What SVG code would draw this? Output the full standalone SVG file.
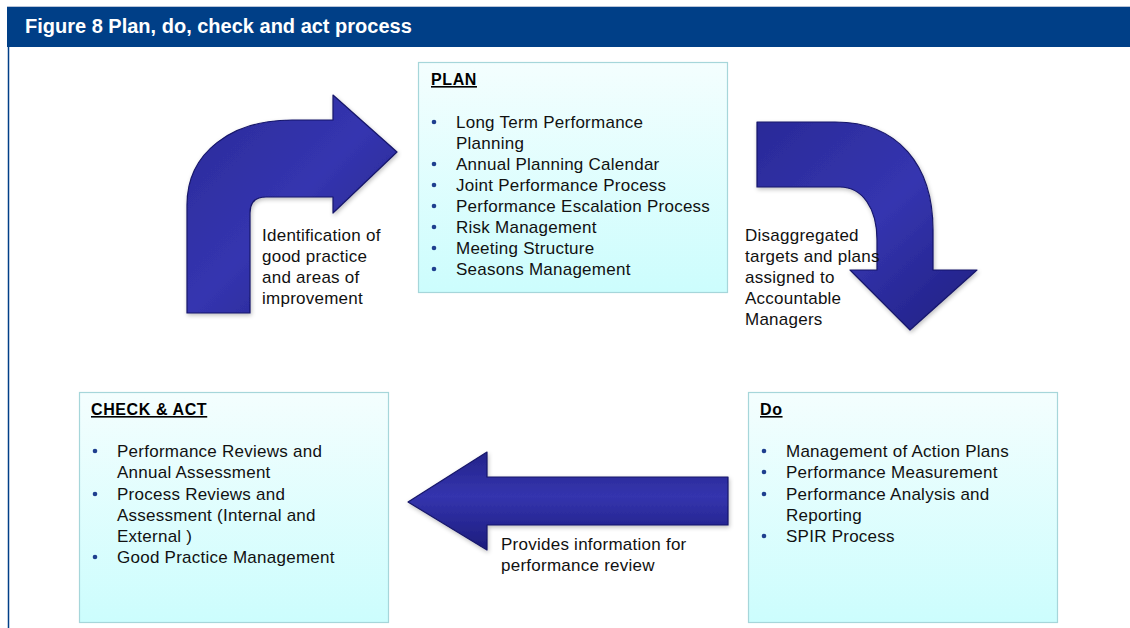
<svg xmlns="http://www.w3.org/2000/svg" width="1130" height="628" viewBox="0 0 1130 628">
  <defs>
    <linearGradient id="boxFill" x1="0" y1="0" x2="0" y2="1">
      <stop offset="0" stop-color="#f4fefe"/>
      <stop offset="1" stop-color="#ccfdfd"/>
    </linearGradient>
    <linearGradient id="arrowH" x1="0" y1="0" x2="0" y2="1">
      <stop offset="0" stop-color="#24248a"/>
      <stop offset="0.45" stop-color="#3434ae"/>
      <stop offset="1" stop-color="#1c1c7c"/>
    </linearGradient>
    <linearGradient id="arrowD" x1="0" y1="0" x2="1" y2="1">
      <stop offset="0" stop-color="#2a2a98"/>
      <stop offset="0.5" stop-color="#3535b0"/>
      <stop offset="1" stop-color="#1e1e80"/>
    </linearGradient>
    <filter id="shade" x="-10%" y="-10%" width="120%" height="120%">
      <feGaussianBlur in="SourceAlpha" stdDeviation="2"/>
      <feOffset dx="1" dy="2" result="b"/>
      <feFlood flood-color="#000" flood-opacity="0.25"/>
      <feComposite in2="b" operator="in"/>
      <feMerge>
        <feMergeNode/>
        <feMergeNode in="SourceGraphic"/>
      </feMerge>
    </filter>
  </defs>
  <style>
    .box { fill: url(#boxFill); stroke: #a6d6da; stroke-width: 1.2; }
    .title { font-family: "Liberation Sans", Arial, sans-serif; font-size: 16px; letter-spacing: 0.6px; font-weight: bold; fill: #000; text-decoration: underline; }
    .item { font-family: "Liberation Sans", Arial, sans-serif; font-size: 17px; letter-spacing: 0.25px; fill: #111; }
    .bullet { fill: #1f3f8f; }
    .label { font-family: "Liberation Sans", Arial, sans-serif; font-size: 17px; letter-spacing: 0.25px; fill: #111; }
    .arrow { stroke: #16166a; stroke-width: 1.2; stroke-linejoin: round; }
    .head { font-family: "Liberation Sans", Arial, sans-serif; font-size: 20px; font-weight: bold; fill: #fff; }
  </style>

  <!-- Frame and caption band -->
  <rect x="0" y="0" width="1130" height="628" fill="#fff"/>
  <line x1="7" y1="6.5" x2="1130" y2="6.5" stroke="#b8c4d8" stroke-width="1"/>
  <rect x="7" y="7" width="1123" height="40" fill="#003f87"/>
  <line x1="8.5" y1="47" x2="8.5" y2="628" stroke="#003f87" stroke-width="1.5"/>
  <text class="head" x="25" y="33">Figure 8 Plan, do, check and act process</text>

  <!-- Connectors -->
  <g id="connectors" filter="url(#shade)">
    <path id="arrow-act-plan" class="arrow" fill="url(#arrowD)" d="M 187 313 L 187 205 C 187 152 232 120 292 120 L 333 120 L 333 95 L 397 152 L 333 213 L 333 197 L 266 197 Q 250 197 250 213 L 250 313 Z"/>
    <path id="arrow-plan-do" class="arrow" fill="url(#arrowD)" d="M 757 122 L 835 122 C 898 122 933 165 933 230 L 933 270 L 977 270 L 910 330 L 850 270 L 877 270 L 877 240 C 877 208 862 187 840 187 L 757 187 Z"/>
    <path id="arrow-do-check" class="arrow" fill="url(#arrowH)" d="M 728 477 L 487 477 L 487 452 L 408 502 L 487 550 L 487 525 L 728 525 Z"/>
  </g>

  <!-- Connector labels -->
  <g id="connector-labels">
    <text class="label" x="262" y="241">Identification of</text>
    <text class="label" x="262" y="262">good practice</text>
    <text class="label" x="262" y="283">and areas of</text>
    <text class="label" x="262" y="304">improvement</text>

    <text class="label" x="745" y="241">Disaggregated</text>
    <text class="label" x="745" y="262">targets and plans</text>
    <text class="label" x="745" y="283">assigned to</text>
    <text class="label" x="745" y="304">Accountable</text>
    <text class="label" x="745" y="325">Managers</text>

    <text class="label" x="501" y="550">Provides information for</text>
    <text class="label" x="501" y="571">performance review</text>
  </g>

  <!-- PLAN -->
  <g id="plan">
    <rect class="box" x="418.5" y="62.5" width="309" height="230"/>
    <text class="title" x="431" y="85">PLAN</text>
    <circle class="bullet" cx="434" cy="122" r="2.3"/>
    <circle class="bullet" cx="434" cy="164" r="2.3"/>
    <circle class="bullet" cx="434" cy="185" r="2.3"/>
    <circle class="bullet" cx="434" cy="206" r="2.3"/>
    <circle class="bullet" cx="434" cy="227" r="2.3"/>
    <circle class="bullet" cx="434" cy="248" r="2.3"/>
    <circle class="bullet" cx="434" cy="269" r="2.3"/>
    <text class="item" x="456" y="128">Long Term Performance</text>
    <text class="item" x="456" y="149">Planning</text>
    <text class="item" x="456" y="170">Annual Planning Calendar</text>
    <text class="item" x="456" y="191">Joint Performance Process</text>
    <text class="item" x="456" y="212">Performance Escalation Process</text>
    <text class="item" x="456" y="233">Risk Management</text>
    <text class="item" x="456" y="254">Meeting Structure</text>
    <text class="item" x="456" y="275">Seasons Management</text>
  </g>

  <!-- DO -->
  <g id="do">
    <rect class="box" x="748.5" y="392.5" width="309" height="230"/>
    <text class="title" x="760" y="415">Do</text>
    <circle class="bullet" cx="764" cy="451" r="2.3"/>
    <circle class="bullet" cx="764" cy="472" r="2.3"/>
    <circle class="bullet" cx="764" cy="494" r="2.3"/>
    <circle class="bullet" cx="764" cy="536" r="2.3"/>
    <text class="item" x="786" y="457">Management of Action Plans</text>
    <text class="item" x="786" y="478">Performance Measurement</text>
    <text class="item" x="786" y="500">Performance Analysis and</text>
    <text class="item" x="786" y="521">Reporting</text>
    <text class="item" x="786" y="542">SPIR Process</text>
  </g>

  <!-- CHECK & ACT -->
  <g id="check-act">
    <rect class="box" x="79.5" y="392.5" width="309" height="230"/>
    <text class="title" x="91" y="415">CHECK &amp; ACT</text>
    <circle class="bullet" cx="95" cy="451" r="2.3"/>
    <circle class="bullet" cx="95" cy="494" r="2.3"/>
    <circle class="bullet" cx="95" cy="557" r="2.3"/>
    <text class="item" x="117" y="457">Performance Reviews and</text>
    <text class="item" x="117" y="478">Annual Assessment</text>
    <text class="item" x="117" y="500">Process Reviews and</text>
    <text class="item" x="117" y="521">Assessment (Internal and</text>
    <text class="item" x="117" y="542">External )</text>
    <text class="item" x="117" y="563">Good Practice Management</text>
  </g>
</svg>
